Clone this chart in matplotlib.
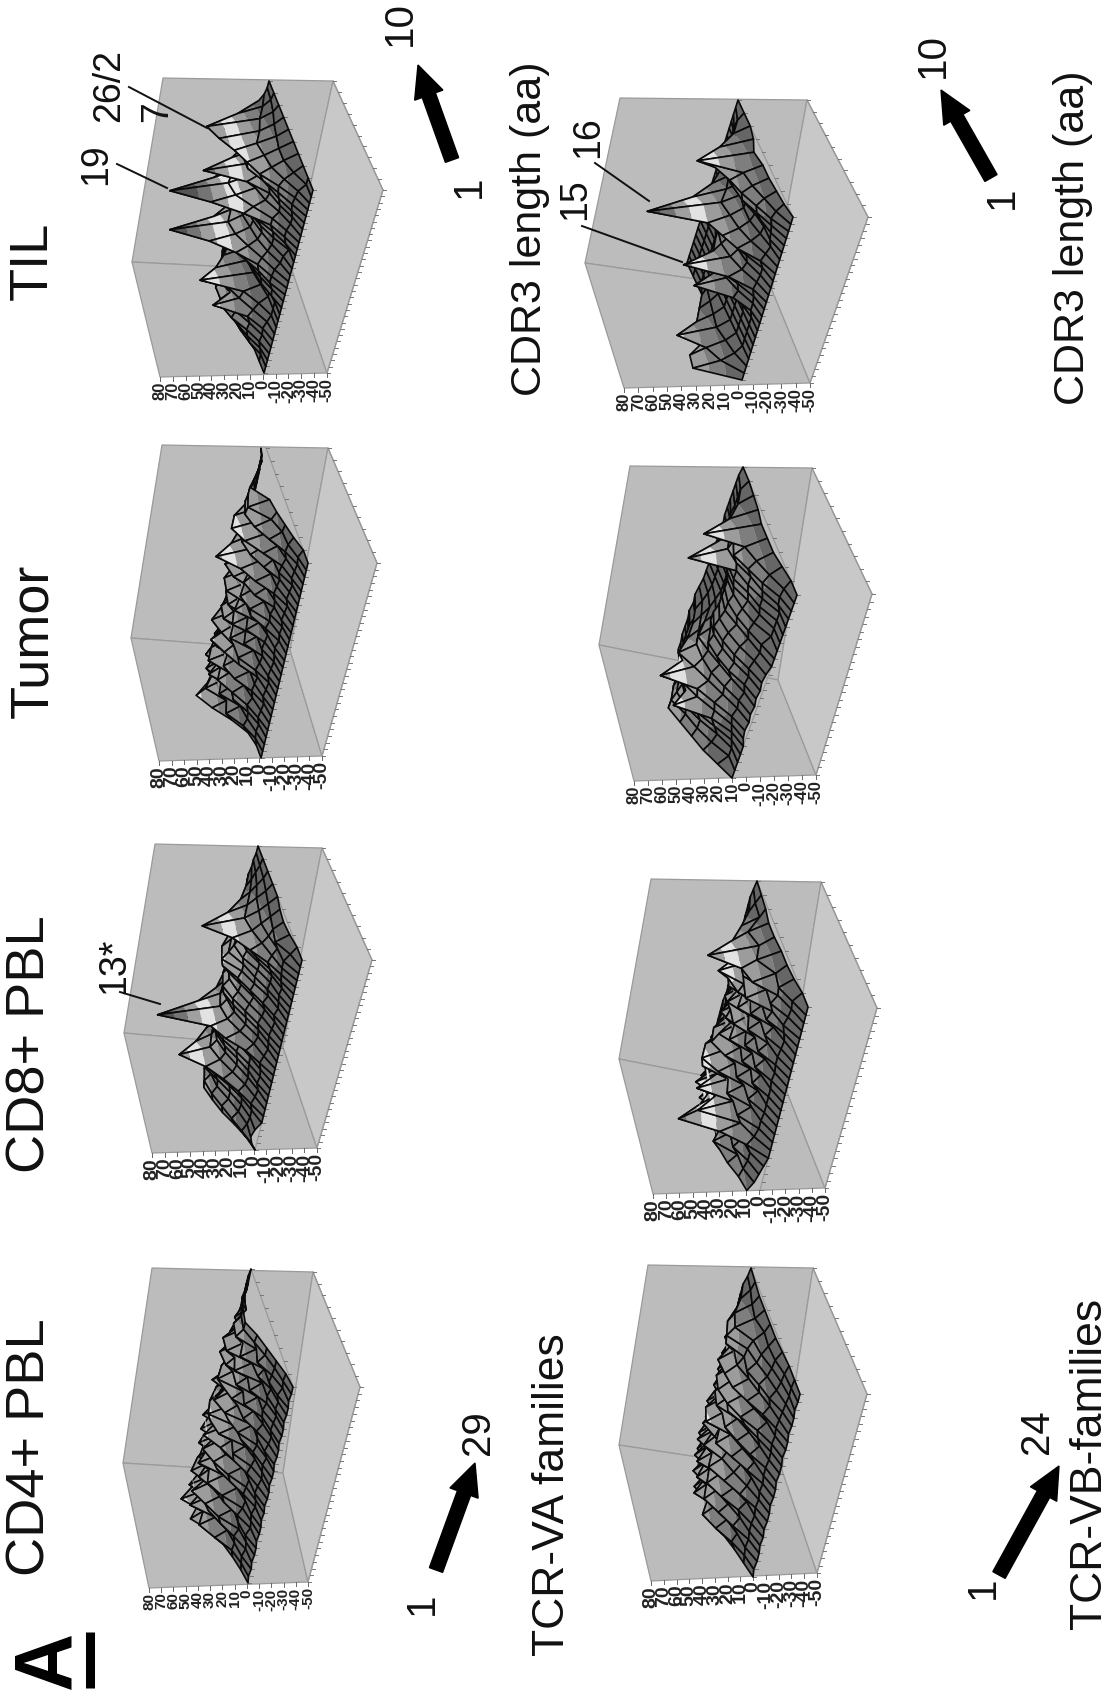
import numpy as np
import matplotlib
matplotlib.use("Agg")
from matplotlib import pyplot as plt
from matplotlib.collections import PolyCollection
from matplotlib.patches import FancyArrow, Polygon

plt.rcParams["font.family"] = ["Liberation Sans", "DejaVu Sans"]

# surface values: one row per CDR3 length (1-10), one column per TCR family
va_cd4 = [
    [0,1,0,1,0,0,1,0,0,1,0,1,0,0,1,0,0,1,0,0,1,0,0,1,0,0,1,0,0],
    [2,3,4,2,3,5,2,3,4,2,3,5,4,2,3,4,2,5,3,2,4,3,2,4,3,5,2,3,2],
    [5,7,6,8,5,7,9,6,5,8,7,6,9,7,5,8,6,7,9,5,7,8,6,7,5,8,7,6,6],
    [9,17,8,15,18,7,16,19,8,15,18,7,16,18,9,14,18,7,16,9,18,8,16,7,12,8,15,10,10],
    [15,26,14,21,25,14,20,27,15,22,26,17,23,15,27,14,22,26,17,23,15,22,14,26,13,24,12,15,14],
    [28,19,31,18,32,20,29,22,32,18,31,20,33,19,30,33,18,31,20,27,32,21,28,22,30,18,25,20,20],
    [18,33,17,29,15,30,18,26,21,29,15,30,18,31,17,28,22,16,30,18,25,21,29,17,29,16,23,18,18],
    [10,19,11,16,12,21,9,18,13,18,9,19,12,16,14,19,11,19,10,18,11,16,13,18,10,17,9,14,14],
    [4,7,6,8,5,7,6,8,5,7,6,8,5,7,6,8,5,7,6,8,5,7,6,8,6,5,7,6,6],
    [0,2,1,2,1,2,1,1,2,1,2,1,2,1,1,2,1,2,1,2,1,1,2,1,2,1,1,1,0],
]
va_cd8 = [
    [0,4,6,4,0,0,0,0,0,0,0,0,0,0,0,0,0,0,0,0,0,0,0,0,0,0,0,0,0],
    [3,8,5,4,4,6,4,3,5,4,5,7,5,3,4,5,4,3,5,3,4,5,4,6,7,8,8,4,0],
    [8,12,8,7,8,12,8,7,8,9,9,14,9,7,8,10,8,7,10,7,9,8,8,11,14,12,9,12,2],
    [14,16,12,12,14,20,14,12,13,15,14,26,16,13,14,16,14,12,16,14,15,14,14,18,24,16,12,10,3],
    [18,20,17,18,22,30,20,17,19,22,20,34,22,18,20,22,19,18,22,20,20,22,20,24,34,20,14,8,2],
    [21,22,18,24,28,47,24,20,22,26,24,72,24,20,24,26,22,24,30,32,28,25,22,26,54,22,12,6,0],
    [16,18,15,18,22,30,19,16,18,20,18,36,20,16,18,22,18,20,26,28,22,18,16,20,30,16,10,4,0],
    [10,12,10,12,14,18,13,10,12,13,12,18,13,11,12,14,12,14,18,18,14,12,10,13,16,10,6,2,0],
    [4,6,5,6,7,9,6,5,6,6,6,9,6,5,6,7,6,7,9,9,7,6,5,6,8,5,3,1,0],
    [0,1,1,2,2,2,2,1,1,2,1,2,2,1,2,2,2,2,2,2,2,1,1,2,2,1,1,0,0],
]
va_tumor = [
    [0,0,0,0,0,0,0,0,0,0,0,0,0,0,0,0,0,0,0,0,0,0,0,0,0,0,0,0,0],
    [0,2,3,2,4,3,2,4,3,2,4,3,2,3,4,2,3,2,4,3,2,4,3,2,4,3,2,3,0],
    [3,8,6,7,9,6,8,7,6,9,7,6,8,7,6,9,7,8,6,7,9,8,7,9,8,6,8,7,4],
    [12,18,8,15,17,9,18,7,17,19,8,17,8,18,9,17,19,9,18,10,20,9,16,10,19,9,17,8,7],
    [24,14,21,13,25,17,23,13,25,19,23,12,24,13,25,17,23,14,23,17,28,15,23,15,30,14,25,13,10],
    [33,27,16,27,19,30,16,26,32,25,17,26,19,25,17,29,16,26,14,29,44,17,26,20,37,16,29,28,12],
    [20,18,24,15,27,24,14,24,17,29,15,24,16,23,15,27,13,29,12,27,28,15,24,17,31,13,25,24,24],
    [12,16,13,14,15,16,13,12,15,17,13,12,14,12,14,15,12,16,12,15,18,14,12,15,17,13,14,16,15],
    [5,8,7,6,8,9,6,7,8,9,7,6,8,6,7,8,6,8,6,7,9,7,6,8,9,7,8,8,7],
    [0,2,1,2,1,2,1,2,1,2,1,1,2,1,2,1,2,1,2,1,2,1,2,1,2,1,2,2,4],
]
va_til = [
    [0,0,0,0,0,0,0,0,0,0,0,0,0,0,0,0,0,0,0,0,0,0,0,0,0,0,0,0,0],
    [0,0,2,4,3,4,2,0,0,0,4,5,8,8,7,4,3,0,4,6,6,4,4,6,7,6,5,0,0],
    [0,5,8,10,9,12,9,6,0,0,8,10,13,15,13,10,8,8,10,13,13,9,10,12,14,15,12,6,0],
    [0,8,12,18,16,35,16,14,2,0,10,14,20,28,20,14,12,14,18,30,24,16,14,16,22,26,18,10,0],
    [0,10,15,22,24,18,22,44,4,0,12,16,24,45,26,16,15,18,26,52,34,20,28,20,30,32,20,10,0],
    [0,12,14,20,24,22,20,28,5,0,14,18,28,72,28,18,16,20,32,80,36,22,58,22,30,38,22,8,0],
    [0,8,10,16,18,18,16,18,3,0,10,14,22,34,22,16,12,16,26,42,28,18,32,18,28,46,16,6,0],
    [0,4,6,10,12,12,10,10,0,0,6,10,14,18,14,10,8,12,18,22,18,12,18,14,20,52,12,3,0],
    [0,2,3,5,6,6,5,4,0,0,3,5,7,9,7,5,4,6,9,10,9,6,9,7,10,24,6,1,0],
    [0,0,1,1,2,2,1,0,0,0,1,1,2,2,2,1,1,1,2,3,2,1,2,1,2,4,1,0,0],
]
vb_cd4 = [
    [0,1,0,0,1,0,1,0,0,1,0,0,1,0,0,1,0,0,1,0,0,1,0,0],
    [3,4,5,4,5,5,4,5,4,5,4,5,5,4,4,5,4,5,4,3,2,1,1,0],
    [6,10,7,12,8,11,6,13,9,7,12,8,13,7,10,12,6,11,7,9,5,3,2,0],
    [10,18,11,19,13,20,12,21,15,11,20,13,19,11,16,21,12,19,11,13,8,6,5,1],
    [13,24,16,26,18,27,19,29,20,17,28,18,24,16,25,27,16,26,15,18,12,10,6,2],
    [14,16,28,20,29,21,32,22,30,23,21,33,22,28,20,30,22,28,20,16,15,12,5,2],
    [12,22,15,26,18,28,20,29,18,28,20,29,18,25,19,27,18,29,18,26,27,22,8,2],
    [8,7,16,10,20,12,22,12,20,14,22,12,20,11,20,13,20,14,21,14,22,18,6,2],
    [4,5,6,7,8,8,9,8,8,9,9,8,8,7,8,8,8,9,8,9,10,9,3,1],
    [0,1,2,2,3,3,3,3,3,3,3,3,3,2,3,3,3,3,3,3,3,3,1,0],
]
vb_cd8 = [
    [10,6,4,2,0,0,0,0,0,0,0,0,0,0,0,0,0,0,0,0,0,0,0,0],
    [12,10,8,8,12,8,6,6,5,5,5,5,6,5,6,6,5,4,6,8,6,5,6,0],
    [16,10,15,10,28,14,18,9,13,7,13,8,14,8,15,9,13,8,15,12,15,11,12,2],
    [18,24,13,27,55,42,17,23,12,19,10,18,12,19,13,20,12,21,14,28,14,26,10,3],
    [16,14,27,20,34,24,40,18,27,16,25,15,25,14,25,15,25,17,28,25,27,30,20,3],
    [14,23,17,29,22,35,20,33,35,18,31,27,17,25,23,27,17,29,31,40,19,51,14,4],
    [10,9,20,13,25,15,26,16,28,15,25,11,23,11,23,13,23,14,27,21,25,28,18,4],
    [6,11,6,16,10,18,10,18,10,16,8,14,8,13,8,16,8,15,10,20,8,17,5,2],
    [3,4,5,6,7,7,7,7,7,6,6,5,6,5,6,6,6,6,7,8,6,7,4,1],
    [0,1,1,2,2,2,2,2,2,1,1,1,1,1,1,1,2,2,2,2,2,2,1,0],
]
vb_tumor = [
    [0,0,0,0,0,2,3,2,3,2,3,2,3,2,0,0,0,0,0,0,0,0,0,0],
    [6,0,0,2,4,6,8,6,7,5,7,6,8,6,4,5,0,0,0,0,3,4,3,0],
    [12,8,6,10,14,14,16,12,13,10,14,12,14,12,8,10,8,6,8,8,10,12,9,2],
    [16,14,14,18,37,22,24,18,18,14,18,16,18,16,12,14,12,10,12,14,14,18,14,4],
    [20,18,20,22,24,28,46,24,20,18,20,18,20,18,16,16,14,16,18,18,20,24,18,4],
    [24,24,22,20,24,24,26,31,20,21,14,16,16,14,14,14,14,16,18,48,22,20,43,4],
    [16,18,16,14,18,20,18,20,14,12,6,4,4,6,4,8,10,14,14,24,16,14,20,2],
    [8,10,8,8,10,14,10,12,8,4,2,0,0,0,0,2,6,8,8,12,8,8,10,1],
    [3,4,4,4,5,6,4,6,3,1,0,0,0,0,0,0,2,3,3,5,4,4,4,0],
    [0,0,1,1,1,2,1,2,1,0,0,0,0,0,0,0,0,1,1,1,1,1,1,0],
]
vb_til = [
    [0,0,0,0,0,0,0,0,0,0,0,0,0,0,0,0,0,0,0,0,0,0,0,0],
    [30,12,4,0,0,0,0,0,2,2,3,5,4,3,3,6,4,2,4,5,6,8,6,2],
    [28,18,6,0,0,0,0,2,10,8,10,18,10,8,10,18,10,5,4,8,12,14,10,3],
    [14,34,8,0,0,0,0,4,33,12,14,45,14,10,14,24,14,8,6,12,18,20,14,4],
    [8,16,6,0,0,0,0,2,14,12,14,20,16,12,18,30,16,8,8,14,20,24,16,4],
    [4,10,4,0,0,0,0,0,8,10,12,14,14,12,20,68,18,6,8,14,22,30,44,6],
    [0,4,2,0,0,0,0,0,2,0,8,10,10,8,14,32,10,0,0,8,14,20,24,2],
    [0,0,0,0,0,0,0,0,0,0,2,4,4,2,6,14,4,0,0,2,6,10,10,0],
    [0,0,0,0,0,0,0,0,0,0,0,2,1,0,2,4,0,0,0,0,2,4,3,0],
    [0,0,0,0,0,0,0,0,0,0,0,0,0,0,0,0,0,0,0,0,0,0,0,0],
]

z_ticks = [80, 70, 60, 50, 40, 30, 20, 10, 0, -10, -20, -30, -40, -50]
band_edges = [-60, 0, 10, 20, 30, 40, 50, 60, 90]
band_colors = ["#555555", "#666666", "#7e7e7e", "#9c9c9c", "#e2e2e2", "#a0a0a0", "#747474", "#555555"]

# box corners and surface corners of each panel, in figure pixels
panels = [
    dict(z=va_til, tl=(163, 78), tr=(333, 81), apex=(383, 190), br=(327, 373), bl=(160, 377), left=(132, 262),
         back=(292, 270), p00=(264, 373), p01=(313, 190), p11=(269, 81), fs=12),
    dict(z=va_tumor, tl=(162, 445), tr=(328, 448), apex=(377, 563), br=(322, 756), bl=(159, 761), left=(131, 638),
         back=(290, 650), p00=(261, 758), p01=(308, 563), p11=(266, 448), fs=14),
    dict(z=va_cd8, tl=(155, 844), tr=(322, 848), apex=(372, 960), br=(317, 1148), bl=(152, 1153), left=(124, 1033),
         back=(283, 1047), p00=(255, 1150), p01=(302, 960), p11=(258, 846), fs=14),
    dict(z=va_cd4, tl=(152, 1268), tr=(313, 1272), apex=(360, 1387), br=(308, 1582), bl=(149, 1588), left=(123, 1463),
         back=(283, 1473), p00=(248, 1583), p01=(293, 1387), p11=(251, 1269), fs=11),
    dict(z=vb_til, tl=(620, 98), tr=(807, 100), apex=(868, 217), br=(810, 383), bl=(624, 388), left=(585, 263),
         back=(772, 290), p00=(742, 380), p01=(793, 217), p11=(738, 100), fs=12),
    dict(z=vb_tumor, tl=(630, 466), tr=(812, 468), apex=(872, 594), br=(816, 775), bl=(634, 781), left=(599, 645),
         back=(778, 680), p00=(732, 778), p01=(797, 595), p11=(743, 467), fs=12),
    dict(z=vb_cd8, tl=(651, 879), tr=(821, 882), apex=(877, 1008), br=(825, 1188), bl=(653, 1194), left=(619, 1059),
         back=(787, 1092), p00=(760, 1190), p01=(808, 1007), p11=(757, 881), fs=14),
    dict(z=vb_cd4, tl=(648, 1265), tr=(813, 1268), apex=(867, 1394), br=(817, 1573), bl=(651, 1581), left=(619, 1445),
         back=(782, 1470), p00=(753, 1577), p01=(800, 1394), p11=(751, 1268), fs=14),
]

# text, x, y, size
labels = [
    ("TIL", 33, 261, 39), ("Tumor", 33, 641, 39), ("CD8+ PBL", 31, 1044, 39), ("CD4+ PBL", 31, 1447, 39),
    ("TCR-VA families", 552, 1495, 32), ("TCR-VB-families", 1090, 1463, 32),
    ("CDR3 length (aa)", 530, 229, 31), ("CDR3 length (aa)", 1073, 238, 31),
    ("1", 422, 1604, 29), ("29", 478, 1433, 29), ("1", 983, 1588, 29), ("24", 1037, 1432, 29),
    ("1", 469, 187, 29), ("10", 400, 23, 29), ("1", 1002, 198, 29), ("10", 933, 56, 29),
    ("19", 96, 164, 27), ("26/2", 109, 85, 27), ("7", 157, 112, 27), ("13*", 114, 966, 27),
    ("16", 588, 137, 27), ("15", 575, 199, 27),
]
# leader lines: x0, y0, x1, y1
leaders = [(129, 87, 207, 128), (117, 164, 167, 188), (120, 992, 160, 1004), (595, 163, 649, 201), (582, 226, 682, 262)]
# arrows: tail x, tail y, head x, head y
arrows = [(436, 1570, 475, 1463), (999, 1575, 1059, 1466), (452, 160, 418, 65), (991, 178, 941, 90)]


def clip_band(poly, lo, hi):
    # cut a polygon of (u, v, z) down to the part with lo <= z <= hi
    for limit, sign in ((lo, 1), (hi, -1)):
        out = []
        for k in range(len(poly)):
            a, b = poly[k], poly[(k + 1) % len(poly)]
            da, db = sign * (a[2] - limit), sign * (b[2] - limit)
            if da >= 0:
                out.append(a)
            if da * db < 0:
                t = da / (da - db)
                out.append(tuple(a[m] + t * (b[m] - a[m]) for m in range(3)))
        poly = out
        if not poly:
            return []
    return poly


def draw_panel(ax, p):
    tl, tr, apex, br, bl, left, back = [np.array(p[k], float) for k in ("tl", "tr", "apex", "br", "bl", "left", "back")]
    p00, p01, p11 = [np.array(p[k], float) for k in ("p00", "p01", "p11")]
    edge = "#9a9a9a"
    ax.add_patch(Polygon([tl, tr, back, left], fc="#bcbcbc", ec=edge, lw=0.9))
    ax.add_patch(Polygon([left, back, br, bl], fc="#bcbcbc", ec=edge, lw=0.9))
    ax.add_patch(Polygon([tr, apex, br, back], fc="#c8c8c8", ec=edge, lw=0.9))

    z = np.array(p["z"], float)
    nj, ni = z.shape
    di = (p01 - p00) / (ni - 1)
    dj = (p11 - p01) / (nj - 1)
    dz = (bl - br) / 130.0

    # axis lines with ticks on the box
    for a, b, n in ((br, apex, ni + 1), (apex, tr, nj + 1), (p00, p01, ni), (p01, p11, nj)):
        ax.plot([a[0], b[0]], [a[1], b[1]], color=edge, lw=0.9, zorder=1.5)
        for t in np.linspace(0, 1, n):
            q = a + t * (b - a)
            ax.plot([q[0], q[0] + 3], [q[1], q[1]], color="#777777", lw=0.7, zorder=1.5)
    for value in z_ticks:
        q = br + (value + 50) * dz
        ax.plot([q[0], q[0]], [q[1], q[1] + 4], color="#666666", lw=0.7)
        ax.text(q[0], q[1] + 5, str(value), rotation=90, ha="center", va="top", fontsize=p["fs"],
                fontweight="bold", color="#222222")

    def project(u, v, h):
        return p00 + u * di + v * dj + h * dz

    quads = [(i, j) for i in range(ni - 1) for j in range(nj - 1)]
    quads.sort(key=lambda c: project(c[0] + 0.5, c[1] + 0.5, 0)[0])
    verts, faces, edges = [], [], []
    for i, j in quads:
        corners = [(i, j, z[j, i]), (i + 1, j, z[j, i + 1]), (i + 1, j + 1, z[j + 1, i + 1]), (i, j + 1, z[j + 1, i])]
        for b in range(len(band_colors)):
            piece = clip_band(corners, band_edges[b], band_edges[b + 1])
            if len(piece) >= 3:
                verts.append([project(*c) for c in piece])
                faces.append(band_colors[b])
                edges.append("none")
        verts.append([project(*c) for c in corners])
        faces.append("none")
        edges.append("#0a0a0a")
    ax.add_collection(PolyCollection(verts, facecolors=faces, edgecolors=edges, linewidths=1.2, zorder=2))


fig = plt.figure(figsize=(11.13, 17.02), dpi=100)
ax = fig.add_axes([0, 0, 1, 1])
ax.set_xlim(0, 1113)
ax.set_ylim(1702, 0)
ax.axis("off")

for p in panels:
    draw_panel(ax, p)

for text, x, y, size in labels:
    ax.text(x, y, text, rotation=90, ha="center", va="center", fontsize=size, color="#111111")
ax.text(48, 1660, "A", rotation=90, ha="center", va="center", fontsize=58, fontweight="bold", color="black")
ax.plot([90, 90], [1632, 1688], color="black", lw=6.5, solid_capstyle="butt")

for x0, y0, x1, y1 in leaders:
    ax.plot([x0, x1], [y0, y1], color="#111111", lw=1.4, zorder=3)
for x0, y0, x1, y1 in arrows:
    ax.add_patch(FancyArrow(x0, y0, x1 - x0, y1 - y0, width=14, head_width=30, head_length=32,
                            length_includes_head=True, color="black", zorder=3))

fig.savefig("out.png", dpi=100, facecolor="white")
